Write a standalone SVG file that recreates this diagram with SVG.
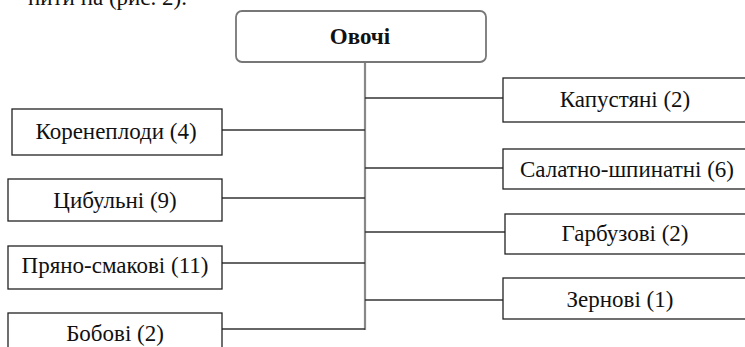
<svg xmlns="http://www.w3.org/2000/svg" width="745" height="347" viewBox="0 0 745 347">
<style>
text{font-family:'Liberation Serif','Times New Roman',serif;fill:#111;font-size:23px}
.lbl{text-anchor:middle}
.box{fill:#fff;stroke:#222;stroke-width:1.3}
.conn line{stroke:#333;stroke-width:1.3}
</style>
<rect width="745" height="347" fill="#fff"/>
<text x="187" y="5" text-anchor="end" font-size="24">нити на (рис. 2).</text>
<g class="conn" id="connectors">
<line x1="365" y1="62" x2="365" y2="330" style="stroke:#888;stroke-width:2.2"/>
<line x1="222" y1="130" x2="365" y2="130"/>
<line x1="222" y1="198" x2="365" y2="198"/>
<line x1="222" y1="263" x2="365" y2="263"/>
<line x1="222" y1="329" x2="365" y2="329"/>
<line x1="365" y1="98" x2="503" y2="98"/>
<line x1="365" y1="168" x2="503" y2="168"/>
<line x1="365" y1="232" x2="505" y2="232"/>
<line x1="365" y1="300" x2="503" y2="300"/>
</g>
<g id="root">
<rect x="236" y="11" width="250" height="51" rx="6" fill="#fff" stroke="#777" stroke-width="1.8"/>
<text x="360" y="44" class="lbl" font-weight="bold" font-size="26">Овочі</text>
</g>
<g id="n1"><rect class="box" x="12" y="109" width="210" height="46"/><text x="116" y="139" class="lbl">Коренеплоди (4)</text></g>
<g id="n2"><rect class="box" x="8" y="179" width="214" height="42"/><text x="115" y="208" class="lbl">Цибульні (9)</text></g>
<g id="n3"><rect class="box" x="8" y="246" width="214" height="43"/><text x="115" y="273" class="lbl">Пряно-смакові (11)</text></g>
<g id="n4"><rect class="box" x="8" y="313" width="214" height="40"/><text x="115" y="341" class="lbl">Бобові (2)</text></g>
<g id="n5"><rect class="box" x="503" y="78" width="250" height="44"/><text x="625" y="107" class="lbl">Капустяні (2)</text></g>
<g id="n6"><rect class="box" x="503" y="149" width="250" height="40"/><text x="627" y="177" class="lbl">Салатно-шпинатні (6)</text></g>
<g id="n7"><rect class="box" x="505" y="214" width="250" height="40"/><text x="625" y="241" class="lbl">Гарбузові (2)</text></g>
<g id="n8"><rect class="box" x="503" y="278" width="250" height="41"/><text x="620" y="307" class="lbl">Зернові (1)</text></g>
</svg>
